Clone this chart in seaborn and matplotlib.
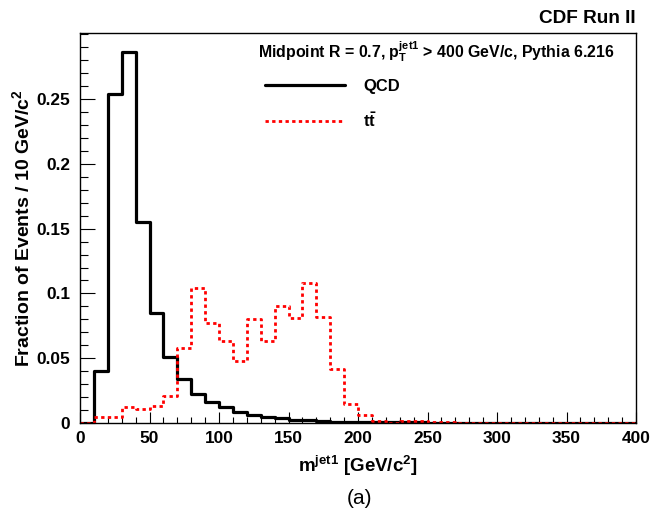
import numpy as np
import seaborn as sns
import matplotlib.pyplot as plt
from matplotlib.ticker import MultipleLocator

# 10 GeV bins from 0 to 400
bin_edges = list(range(0, 410, 10))
qcd_frac = [0.0, 0.040, 0.254, 0.286, 0.155, 0.085, 0.051, 0.034, 0.022, 0.016,
            0.012, 0.0088, 0.0058, 0.0047, 0.0036, 0.0027, 0.0021, 0.0015, 0.0011, 0.0008,
            0.0006, 0.0005, 0.0005, 0.0004, 0.0004, 0.0003, 0.0003, 0.0002, 0.0002, 0.0001,
            0.0001, 0.0001, 0.0001, 0.0001, 0.0, 0.0, 0.0, 0.0, 0.0, 0.0]
ttbar_frac = [0.0, 0.005, 0.005, 0.012, 0.011, 0.013, 0.021, 0.058, 0.104, 0.077,
              0.063, 0.048, 0.080, 0.063, 0.090, 0.081, 0.108, 0.082, 0.042, 0.0145,
              0.006, 0.0015, 0.0002, 0.0012, 0.0012, 0.0005, 0.0005, 0.0002, 0.0001, 0.0001,
              0.0, 0.0, 0.0, 0.0, 0.0, 0.0, 0.0, 0.0, 0.0, 0.0]
y_ticks = [0, 0.05, 0.1, 0.15, 0.2, 0.25]
y_ticklabels = ["0", "0.05", "0.1", "0.15", "0.2", "0.25"]

centers = [e + 5 for e in bin_edges[:-1]]

sns.set_style("ticks")
plt.rcParams['font.family'] = ['Liberation Sans', 'DejaVu Sans']
plt.rcParams['font.weight'] = 'bold'
plt.rcParams['mathtext.default'] = 'regular'
for key in ['text.color', 'axes.labelcolor', 'xtick.color', 'ytick.color',
            'axes.edgecolor']:
    plt.rcParams[key] = 'black'

fig = plt.figure(figsize=(6.52, 5.12), dpi=100)
ax = fig.add_axes([80 / 652, 89 / 512, 556 / 652, 390 / 512])

sns.histplot(x=centers, weights=qcd_frac, bins=bin_edges, element="step", fill=False,
             color="black", linewidth=2.3, ax=ax, label="QCD")
sns.histplot(x=centers, weights=ttbar_frac, bins=bin_edges, element="step", fill=False,
             color="red", linewidth=2.0, linestyle=(0, (1.2, 1.2)), ax=ax,
             label=r"t$\bar{t}$")

ax.set_xlim(0, 400)
ax.set_ylim(0, 0.301)
ax.xaxis.set_major_locator(MultipleLocator(50))
ax.xaxis.set_minor_locator(MultipleLocator(10))
ax.yaxis.set_minor_locator(MultipleLocator(0.01))
ax.set_yticks(y_ticks)
ax.set_yticklabels(y_ticklabels)
ax.tick_params(axis="both", which="both", direction="in", labelsize=12.4, width=0.8,
               color="black", labelcolor="black")
ax.tick_params(axis="x", which="major", length=8, pad=6)
ax.tick_params(axis="x", which="minor", length=4)
ax.tick_params(axis="y", which="major", length=11, pad=7)
ax.tick_params(axis="y", which="minor", length=5.5)
for lbl in ax.get_xticklabels() + ax.get_yticklabels():
    lbl.set_fontweight("bold")
for sp in ax.spines.values():
    sp.set_visible(True)
    sp.set_linewidth(1.0)
    sp.set_color("black")

ax.set_xlabel(r"m$^{jet1}$ [GeV/c$^{2}$]", fontsize=13.5, fontweight="bold")
ax.xaxis.set_label_coords(0.5, -0.078)
ax.set_ylabel(r"Fraction of Events / 10 GeV/c$^{2}$", fontsize=14, fontweight="bold")
ax.yaxis.set_label_coords(-0.085, 0.5)

fig.text(636 / 652, 1 - 18.5 / 512, "CDF Run II", ha="right", va="center",
         fontsize=13.7, fontweight="bold")
fig.text(436 / 652, 1 - 57 / 512,
         r"Midpoint R = 0.7, p$_{T}^{jet1}$ > 400 GeV/c, Pythia 6.216",
         ha="center", va="baseline", fontsize=11.4, fontweight="bold")
fig.text(360 / 652, 1 - 498 / 512, "(a)", ha="center", va="center",
         fontsize=15, fontweight="normal")

handles, labels = ax.get_legend_handles_labels()
leg = ax.legend(handles, labels, loc="upper left", bbox_to_anchor=(0.333, 0.882),
                frameon=False, handlelength=4.85, handletextpad=1.1, labelspacing=1.03,
                borderpad=0, borderaxespad=0, prop={"weight": "bold", "size": 11.9})

fig.savefig("out.png", dpi=100)
